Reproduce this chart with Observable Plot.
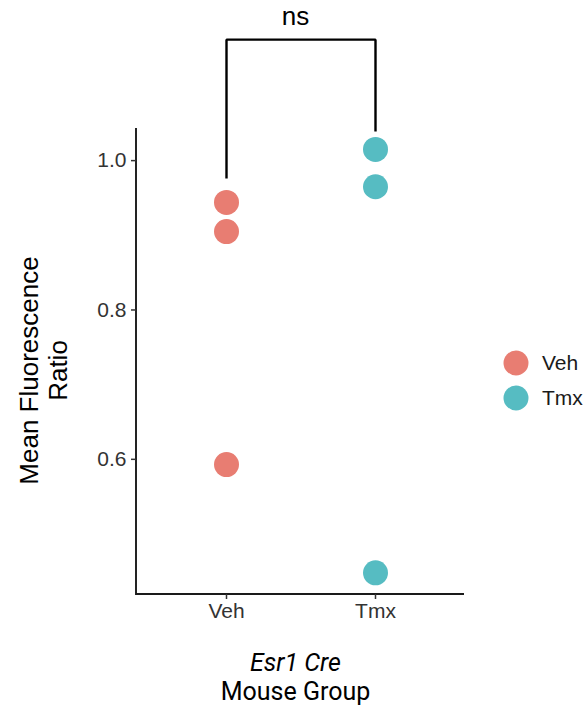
<!DOCTYPE html>
<html>
<head>
<meta charset="utf-8">
<script src="https://cdn.jsdelivr.net/npm/d3@7"></script>
<script src="https://cdn.jsdelivr.net/npm/@observablehq/plot@0.6"></script>
<style>
  html, body { margin: 0; padding: 0; background: #fff; }
  #wrap { position: relative; width: 586px; height: 708px; }
  #legend { position: absolute; left: 503px; top: 345px; font-family: "Liberation Sans", Arial, sans-serif; font-size: 21px; color: #1a1a1a; }
  #legend .row { display: flex; align-items: center; height: 35px; }
  #legend svg { margin-right: 13px; }
</style>
</head>
<body>
<div id="wrap"><div id="legend"></div></div>
<script>
// ---- data ----
const categories = ["Veh", "Tmx"];
const colors = ["#E87D72", "#56BCC2"];
const groups = ["Veh", "Veh", "Veh", "Tmx", "Tmx", "Tmx"];
const ratios = [0.944, 0.905, 0.593, 1.015, 0.965, 0.448];
const yTicks = [0.6, 0.8, 1.0];
const yDomain = [0.419, 1.043];
const bracketGroups = ["Veh", "Veh", "Tmx", "Tmx"];
const bracketLevels = [0.976, 1.162, 1.162, 1.039];
const sigLabel = "ns";
const sigLevel = 1.193;
const yTitle = "Mean Fluorescence\nRatio";
const xTitleItalic = "Esr1 Cre";
const xTitle = "Mouse Group";

const points = groups.map((g, i) => ({group: g, ratio: ratios[i]}));
const bracket = bracketGroups.map((g, i) => ({group: g, level: bracketLevels[i]}));

const axisLines = (index, scales, values, dims) => {
  const g = d3.create("svg:g");
  const x0 = dims.marginLeft, x1 = dims.width - dims.marginRight;
  const y0 = dims.marginTop, y1 = dims.height - dims.marginBottom;
  g.append("path")
    .attr("d", `M${x0},${y0}V${y1}H${x1}`)
    .attr("fill", "none")
    .attr("stroke", "#1a1a1a")
    .attr("stroke-width", 1.9);
  return g.node();
};

const tickFont = 21;

const chart = Plot.plot({
  width: 586,
  height: 708,
  marginLeft: 136,
  marginRight: 122,
  marginTop: 128,
  marginBottom: 114,
  style: {fontFamily: "Liberation Sans, Arial, sans-serif", fontSize: "21px", background: "#fff", overflow: "visible"},
  x: {type: "point", domain: categories, padding: 0.6, axis: null},
  y: {domain: yDomain, axis: null},
  color: {domain: categories, range: colors},
  marks: [
    axisLines,
    Plot.axisY({ticks: yTicks, tickFormat: ".1f", tickSize: 5, tickPadding: 5, fontSize: tickFont, fill: "#333", stroke: "#333", strokeWidth: 1.5, label: null}),
    Plot.axisX({tickSize: 5, tickPadding: 4, fontSize: tickFont, fill: "#333", stroke: "#333", strokeWidth: 1.5, label: null}),
    Plot.line(bracket, {x: "group", y: "level", stroke: "#000", strokeWidth: 2.4, strokeLinejoin: "miter", strokeLinecap: "butt"}),
    Plot.text([{label: sigLabel, level: sigLevel}], {text: "label", y: "level", frameAnchor: "middle", dx: -5, fontSize: 26, fill: "#000"}),
    Plot.dot(points, {x: "group", y: "ratio", fill: "group", r: 12.5}),
    Plot.text([yTitle], {text: d => d, frameAnchor: "left", textAnchor: "middle", rotate: -90, dx: -93, dy: 9, fontSize: 26, fill: "#000", lineHeight: 1.12}),
    Plot.text([xTitleItalic], {text: d => d, frameAnchor: "bottom", dx: -5, dy: 76, fontSize: 25, fontStyle: "italic", fontFamily: "Roboto", fill: "#000"}),
    Plot.text([xTitle], {text: d => d, frameAnchor: "bottom", dx: -5, dy: 105, fontSize: 25, fontFamily: "Roboto", fill: "#000"})
  ]
});
document.getElementById("wrap").prepend(chart);

// legend
const legend = d3.select("#legend");
categories.forEach((c, i) => {
  const row = legend.append("div").attr("class", "row");
  const s = row.append("svg").attr("width", 26).attr("height", 26);
  s.append("circle").attr("cx", 13).attr("cy", 13).attr("r", 12.5).attr("fill", colors[i]);
  row.append("span").text(c);
});
</script>
</body>
</html>
